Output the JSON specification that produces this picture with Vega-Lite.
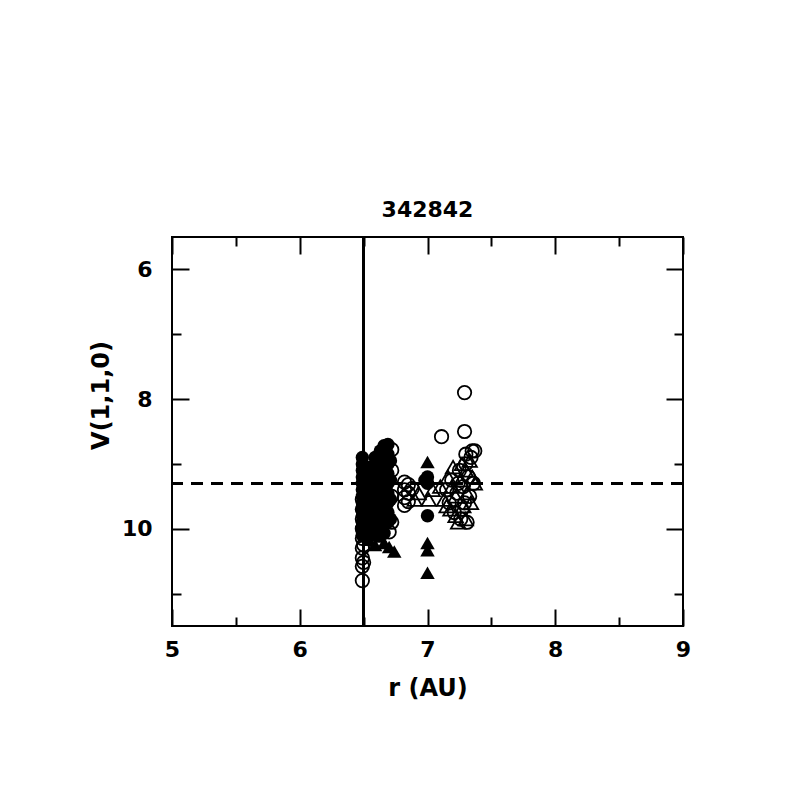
{
  "$schema": "https://vega.github.io/schema/vega-lite/v6.json",
  "autosize": "none",
  "padding": {"left": 172, "top": 237, "right": 114, "bottom": 171},
  "width": 511,
  "height": 389,
  "background": "white",
  "title": {"text": "342842", "font": "DejaVu Sans", "fontSize": 22, "fontWeight": "bold", "color": "black", "offset": 14},
  "config": {
    "view": {"stroke": "black", "strokeWidth": 2},
    "axis": {"domain": false, "grid": false, "labelFlush": false, "labelOverlap": false, "tickColor": "black", "tickWidth": 2, "labelFont": "DejaVu Sans", "labelFontSize": 22, "labelFontWeight": "bold", "labelColor": "black", "titleFont": "DejaVu Sans", "titleFontSize": 24, "titleFontWeight": "bold", "titleColor": "black"}
  },
  "data": {"values": [
    {"r": 6.49, "v": 8.9, "s": "fc"}, {"r": 6.49, "v": 9.0, "s": "fc"}, {"r": 6.49, "v": 9.1, "s": "fc"}, {"r": 6.49, "v": 9.2, "s": "fc"}, {"r": 6.49, "v": 9.3, "s": "fc"}, {"r": 6.49, "v": 9.4, "s": "fc"}, {"r": 6.49, "v": 9.5, "s": "fc"}, {"r": 6.49, "v": 9.6, "s": "fc"}, {"r": 6.49, "v": 9.7, "s": "fc"}, {"r": 6.49, "v": 9.8, "s": "fc"}, {"r": 6.49, "v": 9.9, "s": "fc"}, {"r": 6.49, "v": 10.0, "s": "fc"}, {"r": 6.49, "v": 10.1, "s": "fc"},
    {"r": 6.55, "v": 9.05, "s": "fc"}, {"r": 6.55, "v": 9.2, "s": "fc"}, {"r": 6.55, "v": 9.35, "s": "fc"}, {"r": 6.55, "v": 9.5, "s": "fc"}, {"r": 6.55, "v": 9.65, "s": "fc"}, {"r": 6.55, "v": 9.8, "s": "fc"}, {"r": 6.55, "v": 9.95, "s": "fc"}, {"r": 6.55, "v": 10.1, "s": "fc"},
    {"r": 6.59, "v": 8.9, "s": "fc"}, {"r": 6.59, "v": 9.05, "s": "fc"}, {"r": 6.59, "v": 9.2, "s": "fc"}, {"r": 6.59, "v": 9.35, "s": "fc"}, {"r": 6.59, "v": 9.5, "s": "fc"}, {"r": 6.59, "v": 9.65, "s": "fc"}, {"r": 6.59, "v": 9.8, "s": "fc"}, {"r": 6.59, "v": 9.95, "s": "fc"}, {"r": 6.59, "v": 10.1, "s": "fc"},
    {"r": 6.63, "v": 8.8, "s": "fc"}, {"r": 6.63, "v": 8.95, "s": "fc"}, {"r": 6.63, "v": 9.1, "s": "fc"}, {"r": 6.63, "v": 9.25, "s": "fc"}, {"r": 6.63, "v": 9.4, "s": "fc"}, {"r": 6.63, "v": 9.55, "s": "fc"}, {"r": 6.63, "v": 9.7, "s": "fc"}, {"r": 6.63, "v": 9.85, "s": "fc"}, {"r": 6.63, "v": 10.0, "s": "fc"},
    {"r": 6.66, "v": 8.72, "s": "fc"}, {"r": 6.66, "v": 8.87, "s": "fc"}, {"r": 6.66, "v": 9.02, "s": "fc"}, {"r": 6.66, "v": 9.17, "s": "fc"}, {"r": 6.66, "v": 9.32, "s": "fc"}, {"r": 6.66, "v": 9.47, "s": "fc"}, {"r": 6.66, "v": 9.62, "s": "fc"}, {"r": 6.66, "v": 9.77, "s": "fc"}, {"r": 6.66, "v": 9.92, "s": "fc"}, {"r": 6.66, "v": 10.07, "s": "fc"},
    {"r": 6.69, "v": 8.7, "s": "fc"}, {"r": 6.69, "v": 8.85, "s": "fc"}, {"r": 6.69, "v": 9.0, "s": "fc"}, {"r": 6.69, "v": 9.15, "s": "fc"}, {"r": 6.69, "v": 9.3, "s": "fc"}, {"r": 6.69, "v": 9.45, "s": "fc"}, {"r": 6.69, "v": 9.6, "s": "fc"}, {"r": 6.69, "v": 9.75, "s": "fc"}, {"r": 6.69, "v": 9.9, "s": "fc"},
    {"r": 6.71, "v": 8.95, "s": "fc"}, {"r": 6.71, "v": 9.25, "s": "fc"}, {"r": 6.71, "v": 9.55, "s": "fc"}, {"r": 6.71, "v": 9.85, "s": "fc"},
    {"r": 7.0, "v": 9.2, "s": "fc"}, {"r": 7.0, "v": 9.3, "s": "fc"}, {"r": 6.98, "v": 9.25, "s": "fc"}, {"r": 7.0, "v": 9.8, "s": "fc"},
    {"r": 6.49, "v": 9.55, "s": "oc"}, {"r": 6.49, "v": 9.7, "s": "oc"}, {"r": 6.49, "v": 9.85, "s": "oc"}, {"r": 6.49, "v": 10.0, "s": "oc"}, {"r": 6.49, "v": 10.15, "s": "oc"}, {"r": 6.49, "v": 10.3, "s": "oc"}, {"r": 6.49, "v": 10.45, "s": "oc"}, {"r": 6.49, "v": 10.58, "s": "oc"}, {"r": 6.49, "v": 10.8, "s": "oc"},
    {"r": 6.5, "v": 10.25, "s": "oc"}, {"r": 6.5, "v": 10.52, "s": "oc"},
    {"r": 6.72, "v": 8.78, "s": "oc"}, {"r": 6.72, "v": 9.1, "s": "oc"}, {"r": 6.72, "v": 9.5, "s": "oc"}, {"r": 6.72, "v": 9.9, "s": "oc"}, {"r": 6.7, "v": 10.05, "s": "oc"},
    {"r": 6.82, "v": 9.28, "s": "oc"}, {"r": 6.82, "v": 9.4, "s": "oc"}, {"r": 6.82, "v": 9.52, "s": "oc"}, {"r": 6.82, "v": 9.64, "s": "oc"},
    {"r": 6.85, "v": 9.32, "s": "oc"}, {"r": 6.85, "v": 9.45, "s": "oc"}, {"r": 6.85, "v": 9.58, "s": "oc"}, {"r": 6.88, "v": 9.38, "s": "oc"},
    {"r": 7.11, "v": 8.58, "s": "oc"}, {"r": 7.29, "v": 7.9, "s": "oc"}, {"r": 7.29, "v": 8.5, "s": "oc"},
    {"r": 7.15, "v": 9.4, "s": "oc"}, {"r": 7.17, "v": 9.6, "s": "oc"}, {"r": 7.19, "v": 9.25, "s": "oc"}, {"r": 7.21, "v": 9.75, "s": "oc"}, {"r": 7.23, "v": 9.45, "s": "oc"}, {"r": 7.25, "v": 9.1, "s": "oc"}, {"r": 7.26, "v": 9.85, "s": "oc"}, {"r": 7.28, "v": 9.35, "s": "oc"}, {"r": 7.29, "v": 9.6, "s": "oc"}, {"r": 7.3, "v": 9.0, "s": "oc"}, {"r": 7.31, "v": 9.9, "s": "oc"}, {"r": 7.32, "v": 9.2, "s": "oc"}, {"r": 7.33, "v": 9.5, "s": "oc"}, {"r": 7.34, "v": 8.9, "s": "oc"}, {"r": 7.35, "v": 8.8, "s": "oc"}, {"r": 7.37, "v": 8.8, "s": "oc"}, {"r": 7.36, "v": 9.3, "s": "oc"}, {"r": 7.3, "v": 8.85, "s": "oc"}, {"r": 7.27, "v": 9.7, "s": "oc"}, {"r": 7.24, "v": 9.3, "s": "oc"},
    {"r": 6.9, "v": 9.55, "s": "ot"}, {"r": 6.93, "v": 9.45, "s": "ot"}, {"r": 7.01, "v": 9.55, "s": "ot"}, {"r": 7.04, "v": 9.4, "s": "ot"}, {"r": 7.1, "v": 9.35, "s": "ot"}, {"r": 7.13, "v": 9.55, "s": "ot"}, {"r": 7.16, "v": 9.2, "s": "ot"}, {"r": 7.18, "v": 9.7, "s": "ot"}, {"r": 7.2, "v": 9.05, "s": "ot"}, {"r": 7.22, "v": 9.5, "s": "ot"}, {"r": 7.24, "v": 9.9, "s": "ot"}, {"r": 7.26, "v": 9.25, "s": "ot"}, {"r": 7.28, "v": 9.65, "s": "ot"}, {"r": 7.3, "v": 9.1, "s": "ot"}, {"r": 7.31, "v": 9.45, "s": "ot"}, {"r": 7.33, "v": 8.95, "s": "ot"}, {"r": 7.35, "v": 9.2, "s": "ot"}, {"r": 7.3, "v": 9.85, "s": "ot"}, {"r": 7.22, "v": 9.8, "s": "ot"}, {"r": 7.19, "v": 9.35, "s": "ot"}, {"r": 7.27, "v": 9.0, "s": "ot"}, {"r": 7.34, "v": 9.6, "s": "ot"}, {"r": 7.37, "v": 9.3, "s": "ot"}, {"r": 7.15, "v": 9.65, "s": "ot"},
    {"r": 6.54, "v": 10.17, "s": "ft"}, {"r": 6.59, "v": 10.25, "s": "ft"}, {"r": 6.63, "v": 10.12, "s": "ft"}, {"r": 6.66, "v": 10.22, "s": "ft"}, {"r": 6.7, "v": 10.28, "s": "ft"}, {"r": 6.74, "v": 10.35, "s": "ft"}, {"r": 6.58, "v": 10.05, "s": "ft"},
    {"r": 7.0, "v": 8.97, "s": "ft"}, {"r": 7.0, "v": 10.22, "s": "ft"}, {"r": 7.0, "v": 10.33, "s": "ft"}, {"r": 7.0, "v": 10.68, "s": "ft"}
  ]},
  "resolve": {"axis": {"x": "independent", "y": "independent"}},
  "layer": [
    {
      "mark": {"type": "rule", "color": "black", "strokeWidth": 2, "strokeDash": [12, 8]},
      "encoding": {
        "y": {"datum": 9.3, "type": "quantitative", "scale": {"domain": [5.5, 11.5], "reverse": true, "nice": false, "zero": false},
              "axis": {"orient": "left", "values": [7, 9, 11], "tickSize": -9, "labels": false, "title": null}}
      }
    },
    {
      "mark": {"type": "rule", "color": "black", "strokeWidth": 2},
      "encoding": {
        "x": {"datum": 6.5, "type": "quantitative", "scale": {"domain": [5, 9], "nice": false, "zero": false},
              "axis": {"orient": "bottom", "values": [5.5, 6.5, 7.5, 8.5], "tickSize": -9, "labels": false, "title": null}}
      }
    },
    {
      "transform": [{"filter": "datum.s === 'oc'"}],
      "mark": {"type": "point", "shape": "circle", "filled": false, "color": "black", "strokeWidth": 1.8, "size": 180, "opacity": 1},
      "encoding": {
        "x": {"field": "r", "type": "quantitative", "scale": {"domain": [5, 9], "nice": false, "zero": false},
              "axis": {"orient": "bottom", "values": [5, 6, 7, 8, 9], "tickSize": -17, "labelPadding": 30, "format": "d", "title": "r (AU)", "titlePadding": 16}},
        "y": {"field": "v", "type": "quantitative", "scale": {"domain": [5.5, 11.5], "reverse": true, "nice": false, "zero": false},
              "axis": {"orient": "left", "values": [6, 8, 10], "tickSize": -17, "labelPadding": 37, "format": "d", "title": "V(1,1,0)", "titleX": -71, "titleY": 158, "titleAngle": -90, "titleAlign": "center", "titleBaseline": "middle"}}
      }
    },
    {
      "transform": [{"filter": "datum.s === 'ot'"}],
      "mark": {"type": "point", "shape": "triangle-up", "filled": false, "color": "black", "strokeWidth": 1.8, "size": 210, "opacity": 1},
      "encoding": {
        "x": {"field": "r", "type": "quantitative", "axis": {"orient": "top", "values": [5, 6, 7, 8, 9], "tickSize": -17, "labels": false, "title": null}},
        "y": {"field": "v", "type": "quantitative", "axis": {"orient": "right", "values": [6, 8, 10], "tickSize": -17, "labels": false, "title": null}}
      }
    },
    {
      "transform": [{"filter": "datum.s === 'fc'"}],
      "mark": {"type": "point", "shape": "circle", "filled": true, "color": "black", "size": 180, "opacity": 1},
      "encoding": {
        "x": {"field": "r", "type": "quantitative", "axis": {"orient": "top", "values": [5.5, 6.5, 7.5, 8.5], "tickSize": -9, "labels": false, "title": null}},
        "y": {"field": "v", "type": "quantitative", "axis": {"orient": "right", "values": [7, 9, 11], "tickSize": -9, "labels": false, "title": null}}
      }
    },
    {
      "transform": [{"filter": "datum.s === 'ft'"}],
      "mark": {"type": "point", "shape": "triangle-up", "filled": true, "color": "black", "size": 210, "opacity": 1},
      "encoding": {
        "x": {"field": "r", "type": "quantitative", "axis": null},
        "y": {"field": "v", "type": "quantitative", "axis": null}
      }
    }
  ]
}
